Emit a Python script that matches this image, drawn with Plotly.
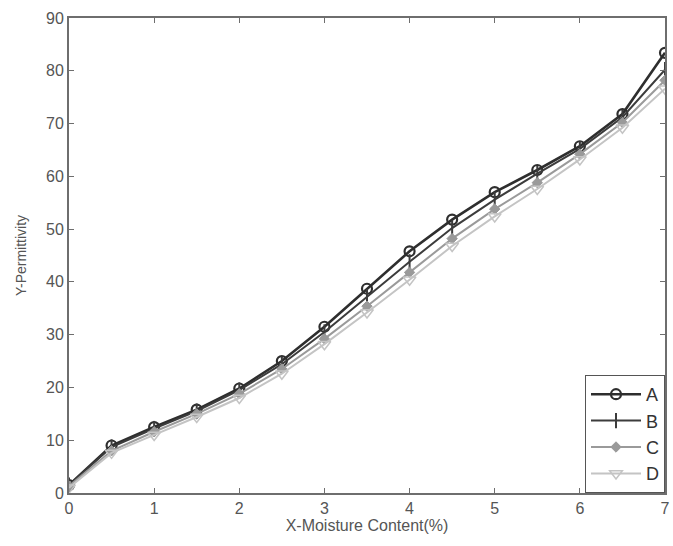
import plotly.graph_objects as go

x = [0, 0.5, 1, 1.5, 2, 2.5, 3, 3.5, 4, 4.5, 5, 5.5, 6, 6.5, 7]
A = [1.5, 9.0, 12.5, 15.8, 19.8, 25.0, 31.5, 38.7, 45.8, 51.8, 57.0, 61.2, 65.7, 71.8, 83.4]
B = [1.5, 8.7, 12.2, 15.5, 19.5, 24.4, 30.5, 37.2, 43.8, 50.2, 55.6, 60.5, 65.2, 71.2, 80.2]
C = [1.3, 8.0, 11.6, 15.0, 18.8, 23.5, 29.2, 35.4, 41.8, 48.2, 53.8, 58.8, 64.2, 70.2, 78.2]
D = [1.0, 7.6, 11.0, 14.4, 18.0, 22.6, 28.2, 34.2, 40.4, 46.8, 52.4, 57.6, 63.2, 69.2, 76.6]
names = ["A", "B", "C", "D"]

styles = [
    dict(color="#2e2e2e", width=2.6, symbol="circle-open", size=10, mw=2.2),
    dict(color="#3c3c3c", width=2.0, symbol="line-ns-open", size=11, mw=2),
    dict(color="#9a9a9a", width=2.0, symbol="diamond", size=8, mw=1),
    dict(color="#c4c4c4", width=2.0, symbol="triangle-down-open", size=11, mw=1.5),
]

fig = go.Figure()
for name, ys, s in zip(names, [A, B, C, D], styles):
    fig.add_trace(go.Scatter(
        x=x, y=ys, name=name, mode="lines+markers",
        line=dict(color=s["color"], width=s["width"]),
        marker=dict(symbol=s["symbol"], size=s["size"], color=s["color"],
                    line=dict(color=s["color"], width=s["mw"])),
    ))

axis_common = dict(
    showgrid=False, zeroline=False, showline=True, linecolor="#6e6e6e", linewidth=2,
    mirror="ticks", ticks="inside", ticklen=5, tickcolor="#6e6e6e", tickwidth=1,
    tickfont=dict(family="Liberation Sans, Arial, sans-serif", size=16, color="#555555"),
)

fig.update_layout(
    width=673, height=546,
    margin=dict(l=69, r=3, t=18, b=53),
    paper_bgcolor="white", plot_bgcolor="white",
    font=dict(family="Liberation Sans, Arial, sans-serif", color="#555555"),
    xaxis=dict(range=[0, 7], dtick=1, title=dict(text="X-Moisture Content(%)", font=dict(size=16), standoff=4), **axis_common),
    yaxis=dict(range=[0, 90], dtick=10, title=dict(text="Y-Permittivity", font=dict(size=14), standoff=16), **axis_common),
    legend=dict(x=1, y=0, xanchor="right", yanchor="bottom", bordercolor="#555555", borderwidth=1,
                bgcolor="white", font=dict(size=18, color="#333333"), tracegroupgap=0,
                itemwidth=50),
    showlegend=True,
)

fig.write_html("out.html")
